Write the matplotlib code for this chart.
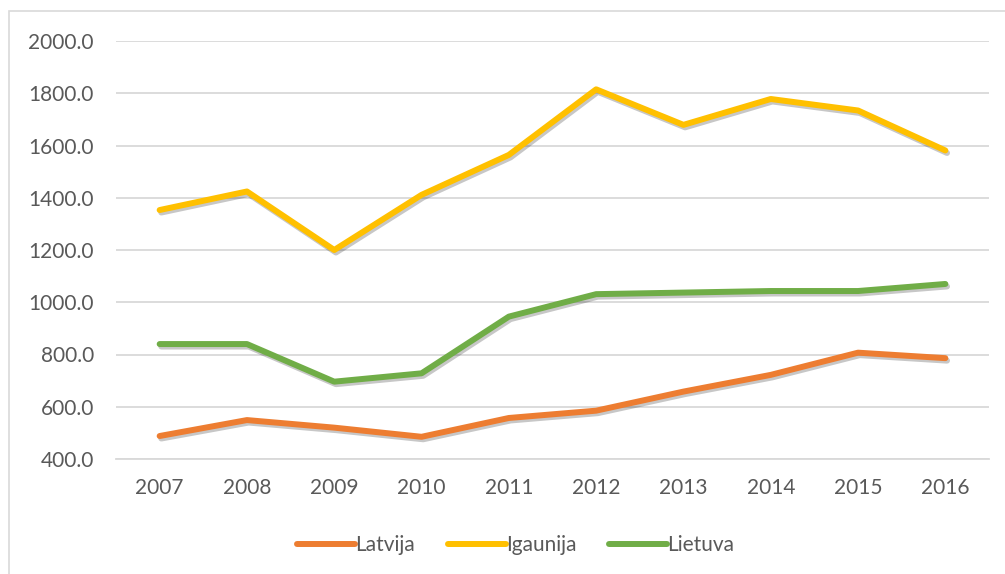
import matplotlib
matplotlib.use("Agg")
import matplotlib.pyplot as plt
import matplotlib.patheffects as pe
from matplotlib.patches import Rectangle

# data
years = ["2007", "2008", "2009", "2010", "2011", "2012", "2013", "2014", "2015", "2016"]
latvija = [488, 549, 520, 485, 557, 585, 658, 722, 807, 786]
igaunija = [1353, 1424, 1200, 1411, 1564, 1815, 1679, 1778, 1734, 1581]
lietuva = [840, 840, 696, 728, 945, 1031, 1037, 1043, 1043, 1070]
y_ticks = [400, 600, 800, 1000, 1200, 1400, 1600, 1800, 2000]

plt.rcParams["font.family"] = ["Lato", "DejaVu Sans"]
TEXT = "#595959"
GRID = "#D9D9D9"

fig = plt.figure(figsize=(10.05, 5.74), dpi=100)
ax = fig.add_axes([116 / 1005, 1 - 459 / 574, (989 - 116) / 1005, (459 - 41) / 574])

# chart area border (runs off the right and bottom edges)
fig.patches.append(Rectangle((9 / 1005, -0.1), 1.2, 1 - 11 / 574 + 0.1,
                             transform=fig.transFigure, fill=False,
                             edgecolor=GRID, linewidth=1.2))

shadow = [pe.SimpleLineShadow(offset=(1.2, -1.8), shadow_color="#000000", alpha=0.22),
          pe.Normal()]
x = list(range(len(years)))
series = [("Latvija", latvija, "#ED7D31"),
          ("Igaunija", igaunija, "#FFC000"),
          ("Lietuva", lietuva, "#70AD47")]
for name, vals, col in series:
    ax.plot(x, vals, color=col, linewidth=4.3, solid_capstyle="round",
            solid_joinstyle="round", label=name, path_effects=shadow, zorder=3)

ax.set_xlim(-0.5, len(years) - 0.5)
ax.set_ylim(400, 2000)
ax.set_yticks(y_ticks)
ax.set_yticklabels([f"{v:.1f}" for v in y_ticks])
ax.set_xticks(x)
ax.set_xticklabels(years)
ax.grid(axis="y", color=GRID, linewidth=1.3, zorder=0)
ax.set_axisbelow(True)
for s in ax.spines.values():
    s.set_visible(False)
ax.spines["bottom"].set_visible(True)
ax.spines["bottom"].set_color(GRID)
ax.spines["bottom"].set_linewidth(1.3)
ax.tick_params(length=0, labelsize=15, labelcolor=TEXT)
ax.tick_params(axis="y", pad=16)
ax.tick_params(axis="x", pad=14)

leg = fig.legend(loc="center", bbox_to_anchor=(0.513, 1 - 545 / 574), ncol=3,
                 frameon=False, fontsize=15, handlelength=2.8, handletextpad=0.0,
                 columnspacing=1.55)
for t in leg.get_texts():
    t.set_color(TEXT)
for h in leg.legend_handles:
    h.set_path_effects([])

fig.savefig("out.png", dpi=100)
